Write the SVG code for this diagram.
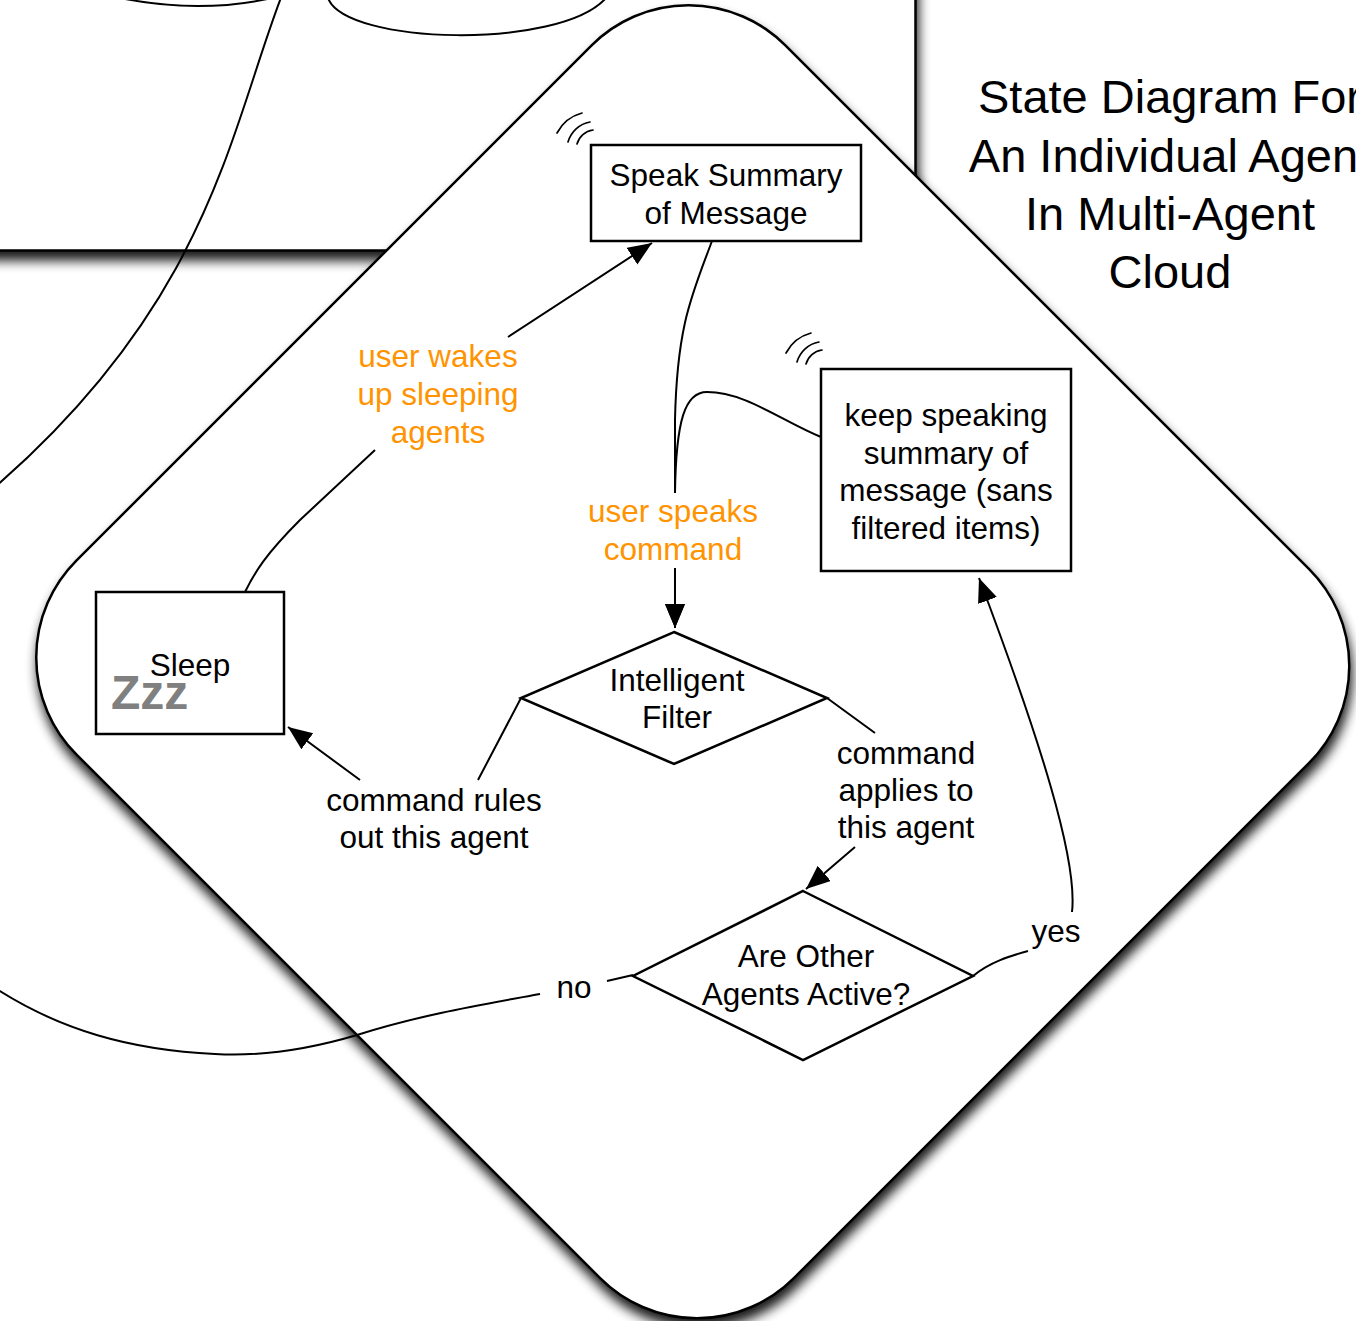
<svg xmlns="http://www.w3.org/2000/svg" width="1356" height="1321" viewBox="0 0 1356 1321">
<defs>
<style>
.ln{fill:none;stroke:#000;stroke-width:2}
.box{fill:#fff;stroke:#000;stroke-width:2.5}
.t{font-family:"Liberation Sans",Arial,Helvetica,sans-serif;font-size:31.5px;fill:#000;text-anchor:middle}
.o{fill:#FF9300}
.title{font-family:"Liberation Sans",Arial,Helvetica,sans-serif;font-size:47px;fill:#000;text-anchor:middle}
.zzz{font-family:"Liberation Sans",Arial,Helvetica,sans-serif;font-size:48px;font-weight:bold;fill:#808080}
.snd{fill:none;stroke:#000;stroke-width:1.7;stroke-linecap:round}
</style>
<filter id="shadow" x="-10%" y="-10%" width="120%" height="125%">
<feGaussianBlur in="SourceAlpha" stdDeviation="6"/>
<feOffset dx="2" dy="9" result="b"/>
<feComponentTransfer><feFuncA type="linear" slope="0.9"/></feComponentTransfer>
<feMerge><feMergeNode/><feMergeNode in="SourceGraphic"/></feMerge>
</filter>
<marker id="arr" markerUnits="userSpaceOnUse" markerWidth="26" markerHeight="22" refX="24" refY="10" orient="auto">
<path d="M0,0 L24,10 L0,20 z" fill="#000"/>
</marker>
<g id="sound">
<path class="snd" d="M-38,-17 A40,40 0 0 1 -13,-37"/>
<path class="snd" d="M-27,-8 A28,28 0 0 1 -5,-28"/>
<path class="snd" d="M-18,-6 A19,19 0 0 1 -2,-20"/>
</g>
</defs>
<rect width="1356" height="1321" fill="#fff"/>

<g id="background-frame">
<g filter="url(#shadow)">
<rect x="-20" y="-20" width="935.5" height="270.5" fill="#fff" stroke="#000" stroke-width="2.5"/>
</g>
<path class="ln" d="M120,-2 Q200,14 272,-2"/>
<path class="ln" d="M328,-2 C345,45 560,50 606,-2"/>
</g>

<g id="outer-connectors">
<path class="ln" d="M282,-5 C230,130 210,300 -5,487"/>
</g>

<g id="agent-cloud">
<g filter="url(#shadow)">
<rect x="-507.35" y="-501.35" width="1014.7" height="1002.7" rx="137" fill="#fff" stroke="#000" stroke-width="2.5" transform="translate(692.75,661.75) rotate(45)"/>
</g>
</g>

<g id="title">
<text class="title" x="1170" y="113">State Diagram For</text>
<text class="title" x="1170" y="171.5">An Individual Agent</text>
<text class="title" x="1170" y="230">In Multi-Agent</text>
<text class="title" x="1170" y="288">Cloud</text>
</g>

<g id="speak-summary">
<rect class="box" x="591" y="145" width="270" height="96"/>
<use href="#sound" x="595" y="150"/>
<text class="t" x="726" y="185.5">Speak Summary</text>
<text class="t" x="726" y="223.5">of Message</text>
</g>

<g id="keep-speaking">
<rect class="box" x="821" y="369" width="250" height="202"/>
<use href="#sound" x="824" y="370"/>
<text class="t" x="946" y="426">keep speaking</text>
<text class="t" x="946" y="463.5">summary of</text>
<text class="t" x="946" y="501">message (sans</text>
<text class="t" x="946" y="538.5">filtered items)</text>
</g>

<g id="sleep">
<rect class="box" x="96" y="592" width="188" height="142"/>
<text class="zzz" x="111" y="709">Zzz</text>
<text class="t" x="190" y="676">Sleep</text>
</g>

<g id="intelligent-filter">
<polygon class="box" points="674,632 827,698 674,764 521,698"/>
<text class="t" x="677" y="691">Intelligent</text>
<text class="t" x="677" y="728">Filter</text>
</g>

<g id="other-agents-active">
<polygon class="box" points="803,891 973,976 803,1060 633,976"/>
<text class="t" x="806" y="967">Are Other</text>
<text class="t" x="806" y="1004.5">Agents Active?</text>
</g>

<g id="connectors">
<path class="ln" marker-end="url(#arr)" d="M712,241 C692,295 677,325 675,420 L675,493 M675,568 L675,628"/>
<path class="ln" marker-end="url(#arr)" d="M821,437 C780,420 745,392 707,392 C685,392 676,420 675,493 M675,568 L675,628"/>
<path class="ln" marker-end="url(#arr)" d="M521,698 L478,780 M360,780 L288,727"/>
<path class="ln" marker-end="url(#arr)" d="M827,698 L875,733 M855,847 L806,889"/>
<path class="ln" marker-end="url(#arr)" d="M973,976 C990,962 1010,956 1028,951 M1072,912 C1078,860 1040,740 979,578"/>
<path class="ln" d="M633,975 L607,981 M540,994 C480,1005 420,1015 357,1035 C300,1052 250,1056 215,1054 C130,1050 60,1030 -5,988"/>
<path class="ln" marker-end="url(#arr)" d="M245,592 C255,572 265,555 300,520 L375,450 M508,337 L652,243"/>
</g>

<g id="connector-labels">
<text class="t o" x="673" y="522">user speaks</text>
<text class="t o" x="673" y="560">command</text>
<text class="t o" x="438" y="367">user wakes</text>
<text class="t o" x="438" y="405">up sleeping</text>
<text class="t o" x="438" y="443">agents</text>
<text class="t" x="434" y="811">command rules</text>
<text class="t" x="434" y="848">out this agent</text>
<text class="t" x="906" y="764">command</text>
<text class="t" x="906" y="801">applies to</text>
<text class="t" x="906" y="838">this agent</text>
<text class="t" x="1056" y="942">yes</text>
<text class="t" x="574" y="998">no</text>
</g>
</svg>
